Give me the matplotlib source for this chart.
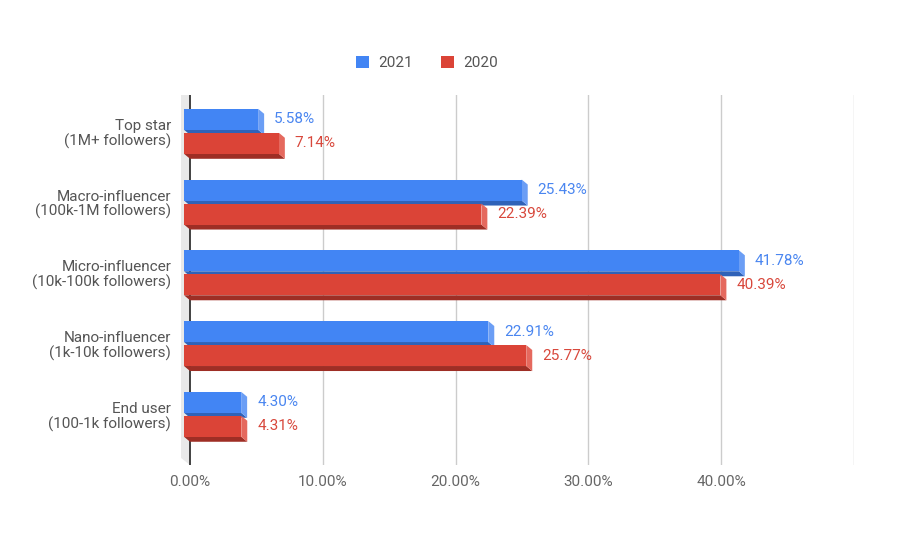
import matplotlib
matplotlib.use('Agg')
import matplotlib.pyplot as plt
from matplotlib.patches import Patch, Polygon

plt.rcParams['font.family'] = ['Roboto', 'DejaVu Sans']

# Data
categories = ['Top star\n(1M+ followers)',
              'Macro-influencer\n(100k-1M followers)',
              'Micro-influencer\n(10k-100k followers)',
              'Nano-influencer\n(1k-10k followers)',
              'End user\n(100-1k followers)']
share_2021 = [5.58, 25.43, 41.78, 22.91, 4.30]
share_2020 = [7.14, 22.39, 40.39, 25.77, 4.31]
series_names = ['2021', '2020']
xticks = [0, 10, 20, 30, 40, 50]
xtick_labels = ['0.00%', '10.00%', '20.00%', '30.00%', '40.00%', '']

# colours: front, side, bottom, label
blue = ('#4285F4', '#6B9EF5', '#2F62B8', '#4A86F0')
red = ('#DB4437', '#E5695E', '#9E2E25', '#D8483C')

W, H = 898, 537
fig = plt.figure(figsize=(W / 100, H / 100), dpi=100)
ax_left, ax_right, ax_top, ax_bot = 181, 854, 95, 465
ax = fig.add_axes([ax_left / W, 1 - ax_bot / H, (ax_right - ax_left) / W, (ax_bot - ax_top) / H])

xmin, xmax = -0.68, 50
ymin, ymax = 4.71, -0.52
ax.set_xlim(xmin, xmax)
ax.set_ylim(ymin, ymax)

# 3D depth offsets in data units
px_x = (ax_right - ax_left) / (xmax - xmin)
px_y = (ax_bot - ax_top) / (ymin - ymax)
dx = 6 / px_x
dy = 5 / px_y
bar_h = 21 / px_y
offs = [-12.5 / px_y, 11.5 / px_y]

# grid + wall + axis line
for x in xticks[1:]:
    ax.axvline(x, color='#CCCCCC', lw=1, zorder=0)
ax.add_patch(Polygon([(xmin, ymax), (0, ymax), (0, ymin), (xmin, ymin - 0.1)],
                     closed=True, facecolor='#E9E9E9', edgecolor='none', zorder=0.5))
ax.axvline(0, color='#333333', lw=1.3, zorder=1)

for s, (vals, cols, off) in enumerate(zip([share_2021, share_2020], [blue, red], offs)):
    for i, v in enumerate(vals):
        yc = i + off
        yt, yb = yc - bar_h / 2, yc + bar_h / 2
        z = 2 + s
        # bottom face
        ax.add_patch(Polygon([(-dx, yb), (v - dx, yb), (v, yb + dy), (0, yb + dy)],
                             closed=True, facecolor=cols[2], edgecolor='none', zorder=z))
        # right side face
        ax.add_patch(Polygon([(v - dx, yt), (v, yt + dy), (v, yb + dy), (v - dx, yb)],
                             closed=True, facecolor=cols[1], edgecolor='none', zorder=z))
        # front face
        ax.barh(yc, v, left=-dx, height=bar_h, color=cols[0], zorder=z)
        ax.text(v + 10 / px_x, yc, f'{v:.2f}%', color=cols[3], fontsize=11,
                va='center', ha='left', zorder=5)

ax.set_xticks(xticks)
ax.set_xticklabels(xtick_labels)
ax.set_yticks(range(len(categories)))
ax.set_yticklabels(categories)
ax.tick_params(axis='both', length=0, labelsize=11, colors='#555555')
ax.tick_params(axis='x', pad=7, colors='#666666')
ax.tick_params(axis='y', pad=7)
for lbl in ax.get_yticklabels():
    lbl.set_linespacing(1.05)
for sp in ax.spines.values():
    sp.set_visible(False)

handles = [Patch(facecolor=blue[0], label=series_names[0]),
           Patch(facecolor=red[0], label=series_names[1])]
fig.legend(handles=handles, loc='center', bbox_to_anchor=(427 / W, 1 - 63 / H),
           ncol=2, frameon=False, fontsize=11, handlelength=0.85, handleheight=0.85,
           handletextpad=0.65, columnspacing=1.8, labelcolor='#555555')

fig.savefig('out.png', dpi=100)
